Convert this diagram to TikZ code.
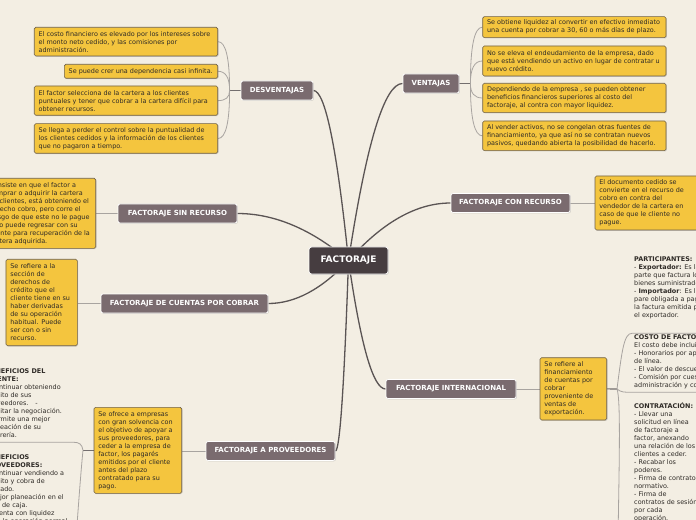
\documentclass[tikz,border=0pt]{standalone}
\usepackage{fontspec}
\setmainfont{DejaVu Sans}
\usetikzlibrary{calc,shadows,backgrounds}
\definecolor{bg}{HTML}{F3EEE3}
\definecolor{ylw}{HTML}{F4C53E}
\definecolor{ylwb}{HTML}{6E6049}
\definecolor{brn}{HTML}{7A6B6F}
\definecolor{ctr}{HTML}{463D40}
\definecolor{mline}{HTML}{5A5454}
\definecolor{sline}{HTML}{A8A4A0}
\definecolor{txt}{HTML}{2E2A26}
\tikzset{
 shd/.style={drop shadow={shadow xshift=0.8bp, shadow yshift=-0.8bp, opacity=0.3}},
 ctrnode/.style={draw=white, line width=0.8bp, fill=ctr, rounded corners=2.5bp, text=white,
   font=\fontsize{9bp}{10bp}\selectfont\bfseries, minimum width=79bp, minimum height=27bp, inner sep=0pt, shd},
 brnode/.style={draw=white, line width=0.8bp, fill=brn, rounded corners=2bp, text=white,
   font=\fontsize{7bp}{8bp}\selectfont\bfseries, minimum height=19bp, inner sep=0pt, shd},
 ybox/.style={draw=ylwb, line width=0.6bp, fill=ylw, rounded corners=1.5bp, inner sep=0pt, shd},
 ytext/.style={anchor=west, align=left, inner sep=0pt, text=txt, font=\fontsize{6.45bp}{8bp}\selectfont},
 ftext/.style={anchor=north west, align=left, inner sep=0pt, text=txt, font=\fontsize{6.45bp}{8bp}\selectfont},
 mainline/.style={draw=mline, line width=1.3bp},
 subline/.style={draw=sline, line width=0.8bp},
 stubline/.style={draw=mline!85, line width=1.2bp},
}
\newcommand\mconn[2]{%
 \coordinate (cm) at ($(#1)!0.5!(#2)$);
 \coordinate (cc) at (cm |- #2);
 \draw[mainline] (#2) .. controls ($(#2)!0.6667!(cc)$) and ($(#1)!0.6667!(cc)$) .. (#1);}
\newcommand\sconn[2]{%
 \coordinate (cc) at (#1 |- #2);
 \draw[subline] (#1) .. controls ($(#1)!0.6667!(cc)$) and ($(#2)!0.6667!(cc)$) .. (#2);}
\begin{document}
\begin{tikzpicture}[x=1bp,y=-1bp]
\useasboundingbox (0,0) rectangle (696,520);
\clip (0,0) rectangle (696,520);

% main topics
\node[ctrnode] (F) at (348.5,260.5) {FACTORAJE};
\node[brnode, minimum width=72bp] (desv) at (277,90.5) {DESVENTAJAS};
\node[brnode, minimum width=56bp] (vent) at (431,83.5) {VENTAJAS};
\node[brnode, minimum width=119bp] (sinr) at (177.5,213.5) {FACTORAJE SIN RECURSO};
\node[brnode, minimum width=167bp] (cxc) at (184.5,303.5) {FACTORAJE DE CUENTAS POR COBRAR};
\node[brnode, minimum width=119bp] (conr) at (510.5,203) {FACTORAJE CON RECURSO};
\node[brnode, minimum width=130bp] (intl) at (451,389) {FACTORAJE INTERNACIONAL};
\node[brnode, minimum width=129bp] (prov) at (270.5,451) {FACTORAJE A PROVEEDORES};

% desventajas
\node[ybox, minimum width=183.4bp, minimum height=28.7bp] (d1) at (126,41.65) {};
\node[ytext] (d1t) at ([xshift=4.5bp]d1.west) {El costo financiero es elevado por los intereses sobre\\el monto neto cedido, y las comisiones por\\administración.};
\node[ybox, minimum width=153.4bp, minimum height=14bp] (d2) at (141,71.3) {};
\node[ytext] (d2t) at ([xshift=4.5bp]d2.west) {Se puede crer una dependencia casi infinita.};
\node[ybox, minimum width=183.4bp, minimum height=29.3bp] (d3) at (126,100.65) {};
\node[ytext] (d3t) at ([xshift=4.5bp]d3.west) {El factor selecciona de la cartera a los clientes\\puntuales y tener que cobrar a la cartera difícil para\\obtener recursos.};
\node[ybox, minimum width=183.4bp, minimum height=29.6bp] (d4) at (126,138.5) {};
\node[ytext] (d4t) at ([xshift=4.5bp]d4.west) {Se llega a perder el control sobre la puntualidad de\\los clientes cedidos y la información de los clientes\\que no pagaron a tiempo.};

% ventajas
\node[ybox, minimum width=183.3bp, minimum height=21bp] (v1) at (574.35,27.2) {};
\node[ytext] (v1t) at ([xshift=4.5bp]v1.west) {Se obtiene liquidez al convertir en efectivo inmediato\\una cuenta por cobrar a 30, 60 o más días de plazo.};
\node[ybox, minimum width=183.3bp, minimum height=30bp] (v2) at (574.35,61) {};
\node[ytext] (v2t) at ([xshift=4.5bp]v2.west) {No se eleva el endeudamiento de la empresa, dado\\que está vendiendo un activo en lugar de contratar u\\nuevo crédito.};
\node[ybox, minimum width=183.3bp, minimum height=29.4bp] (v3) at (574.35,98) {};
\node[ytext] (v3t) at ([xshift=4.5bp]v3.west) {Dependiendo de la empresa , se pueden obtener\\beneficios financieros superiores al costo del\\factoraje, al contra con mayor liquidez.};
\node[ybox, minimum width=183.3bp, minimum height=29.7bp] (v4) at (574.35,135.85) {};
\node[ytext] (v4t) at ([xshift=4.5bp]v4.west) {Al vender activos, no se congelan otras fuentes de\\financiamiento, ya que así no se contratan nuevos\\pasivos, quedando abierta la posibilidad de hacerlo.};

% sin recurso
\node[ybox, minimum width=110.7bp, minimum height=70bp] (s1) at (40.35,213.3) {};
\node[ytext] (s1t) at ([xshift=4.5bp]s1.west) {Consiste en que el factor a\\comprar o adquirir la cartera\\de clientes, está obteniendo el\\derecho cobro, pero corre el\\riesgo de que este no le pague\\y no puede regresar con su\\cliente para recuperación de la\\cartera adquirida.};

% cuentas por cobrar
\node[ybox, minimum width=71.3bp, minimum height=86.4bp] (c1) at (41.65,302.5) {};
\node[ytext] (c1t) at ([xshift=4.5bp]c1.west) {Se refiere a la\\sección de\\derechos de\\crédito que el\\cliente tiene en su\\haber derivadas\\de su operación\\habitual. Puede\\ser con o sin\\recurso.};

% con recurso
\node[ybox, minimum width=107bp, minimum height=54bp] (r1) at (648.5,203) {};
\node[ytext] (r1t) at ([xshift=4.5bp]r1.west) {El documento cedido se\\convierte en el recurso de\\cobro en contra del\\vendedor de la cartera en\\caso de que le cliente no\\pague.};

% internacional
\node[ybox, minimum width=66.7bp, minimum height=62.3bp] (i1) at (573.35,388.85) {};
\node[ytext] (i1t) at ([xshift=4.5bp]i1.west) {Se refiere al\\financiamiento\\de cuentas por\\cobrar\\proveniente de\\ventas de\\exportación.};

\node[ftext] (part) at (634,254.9) {\rule{0pt}{6.5bp}\textbf{PARTICIPANTES:}\\- \textbf{Exportador:} Es la\\parte que factura los\\bienes suministrados.\\- \textbf{Importador}: Es la\\pare obligada a pagar\\la factura emitida por\\el exportador.};
\node[ftext] (costo) at (634,332.6) {\rule{0pt}{6.5bp}\textbf{COSTO DE FACTORAJE:}\\El costo debe incluir:\\- Honorarios por apertura\\de línea.\\- El valor de descuento.\\- Comisión por cuestiones de\\administración y cobranza.};
\node[ftext] (contr) at (634,401.6) {\rule{0pt}{6.5bp}\textbf{CONTRATACIÓN:}\\- Llevar una\\solicitud en línea\\de factoraje a\\factor, anexando\\una relación de los\\clientes a ceder.\\- Recabar los\\poderes.\\- Firma de contrato\\normativo.\\- Firma de\\contratos de sesión\\por cada\\operación.};

% proveedores
\node[ybox, minimum width=87.7bp, minimum height=86bp] (p1) at (137.85,450.3) {};
\node[ytext] (p1t) at ([xshift=4.5bp]p1.west) {Se ofrece a empresas\\con gran solvencia con\\el objetivo de apoyar a\\sus proveedores, para\\ceder a la empresa de\\factor, los pagarés\\emitidos por el cliente\\antes del plazo\\contratado para su\\pago.};

\node[ftext] (bcli) at (-14,366.9) {\rule{0pt}{6.5bp}\textbf{BENEFICIOS DEL}\\\textbf{CLIENTE:}\\- Continuar obteniendo\\crédito de sus\\proveedores.\hspace{7bp}-\\Facilitar la negociación.\\- Permite una mejor\\planeación de su\\tesorería.};
\node[ftext] (bprov) at (-14,452.6) {\rule{0pt}{6.5bp}\textbf{BENEFICIOS}\\\textbf{PROVEEDORES:}\\- Continuar vendiendo a\\crédito y cobra de\\contado.\\- Mejor planeación en el\\flujo de caja.\\- Cuenta con liquidez\\para la operación normal};

\begin{pgfonlayer}{background}
\fill[bg] (0,0) rectangle (696,520);
\begin{scope}
\clip (0,0) rectangle (696,520);
% main connectors
\mconn{F.center}{desv.east}
\mconn{F.center}{vent.west}
\mconn{F.center}{sinr.east}
\mconn{F.center}{cxc.east}
\mconn{F.center}{conr.west}
\mconn{F.center}{intl.west}
\mconn{F.center}{prov.east}
% desventajas
\coordinate (ds) at ($(desv.west)+(-11,0)$);
\draw[stubline] (desv.west) -- (ds);
\sconn{ds}{d1.east}
\sconn{ds}{d2.east}
\sconn{ds}{d3.east}
\sconn{ds}{d4.east}
% ventajas
\coordinate (vs) at ($(vent.east)+(11,0)$);
\draw[stubline] (vent.east) -- (vs);
\sconn{vs}{v1.west}
\sconn{vs}{v2.west}
\sconn{vs}{v3.west}
\sconn{vs}{v4.west}
% straight links
\draw[subline] (sinr.west) -- (sinr.west -| s1.east);
\draw[subline] (cxc.west) -- (cxc.west -| c1.east);
\draw[subline] (conr.east) -- (conr.east -| r1.west);
\draw[subline] (intl.east) -- (intl.east -| i1.west);
\draw[subline] (prov.west) -- (prov.west -| p1.east);
% internacional sub-branches
\coordinate (is) at (617,389);
\draw[stubline] (i1.east) -- (is);
\coordinate (pu) at (632,333.3);
\coordinate (cu) at (632,392.3);
\coordinate (ctu) at (618,540);
\draw[subline] (is) .. controls (622,350) and (624,333.3) .. (pu) -- ++(80,0);
\draw[subline] (is) .. controls (621,392.3) and (624,392.3) .. (cu) -- ++(80,0);
\draw[subline] (is) .. controls (621,400) and (619,470) .. (ctu);
% proveedores sub-branches
\coordinate (ps) at (83,450.3);
\draw[stubline] (p1.west) -- (ps);
\coordinate (bcu) at (74,442.3);
\coordinate (bpu) at (76,540);
\draw[subline] (ps) .. controls (82,444) and (79,442.3) .. (bcu) -- ++(-90,0);
\draw[subline] (ps) .. controls (81,470) and (78,510) .. (bpu);
\end{scope}
\end{pgfonlayer}
\end{tikzpicture}
\end{document}
